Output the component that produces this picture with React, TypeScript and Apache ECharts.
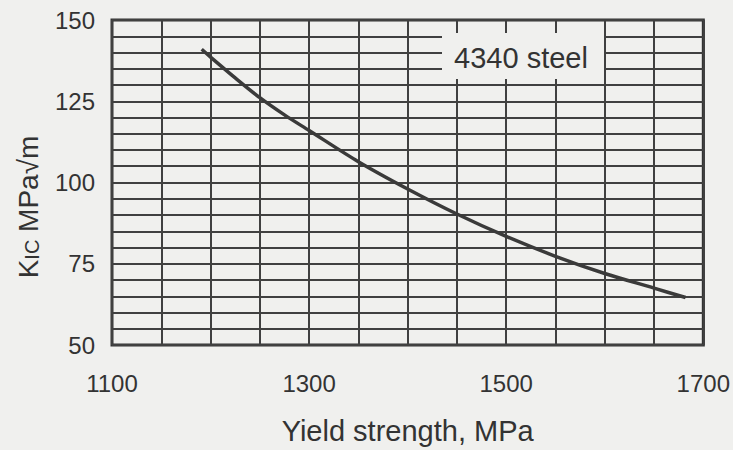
import React, { useEffect, useRef } from "react";
import * as echarts from "echarts";

const yieldStrength = [1191, 1200, 1225, 1250, 1275, 1300, 1350, 1400, 1450, 1500, 1550, 1600, 1650, 1682];
const kic = [141, 138.6, 132.2, 126.1, 120.8, 116, 106.4, 98, 90.3, 83.4, 77.3, 72, 67.5, 64.6];
const xTicks = [1100, 1300, 1500, 1700];
const yTicks = [50, 75, 100, 125, 150];
const seriesLabel = "4340 steel";
const xTitle = "Yield strength, MPa";

const BG = "#f0f0ee";
const INK = "#333333";
const FONT = "'Liberation Sans', Arial, Helvetica, sans-serif";

export default function App() {
  const ref = useRef<HTMLDivElement>(null);
  useEffect(() => {
    document.body.style.margin = "0";
    const chart = echarts.init(ref.current!, undefined, { renderer: "svg" });
    const gridLine = { show: true, lineStyle: { color: "#404040", width: 2 } };
    chart.setOption({
      animation: false,
      backgroundColor: BG,
      grid: {
        left: 112,
        right: 29,
        top: 20,
        bottom: 105,
        show: true,
        borderColor: INK,
        borderWidth: 3,
        backgroundColor: "transparent",
      },
      xAxis: {
        type: "value",
        min: xTicks[0],
        max: xTicks[xTicks.length - 1],
        interval: xTicks[1] - xTicks[0],
        axisLine: { show: false },
        axisTick: { show: false },
        minorTick: { show: false, splitNumber: 4 },
        splitLine: gridLine,
        minorSplitLine: gridLine,
        axisLabel: {
          color: INK,
          fontSize: 24,
          fontFamily: FONT,
          margin: 26,
          formatter: (v: number) => String(v),
        },
        name: xTitle,
        nameLocation: "middle",
        nameGap: 71,
        nameTextStyle: { color: INK, fontSize: 29, fontFamily: FONT },
      },
      yAxis: {
        type: "value",
        min: yTicks[0],
        max: yTicks[yTicks.length - 1],
        interval: yTicks[1] - yTicks[0],
        axisLine: { show: false },
        axisTick: { show: false },
        minorTick: { show: false, splitNumber: 5 },
        splitLine: gridLine,
        minorSplitLine: gridLine,
        axisLabel: {
          color: INK,
          fontSize: 24,
          fontFamily: FONT,
          margin: 17,
          formatter: (v: number) => String(v),
        },
      },
      graphic: [
        {
          type: "rect",
          z: 100,
          shape: { x: 442, y: 33, width: 162, height: 46 },
          style: { fill: BG },
        },
        {
          type: "text",
          z: 101,
          x: 521,
          y: 58,
          style: {
            text: seriesLabel,
            fill: INK,
            fontSize: 29,
            fontFamily: FONT,
            align: "center",
            verticalAlign: "middle",
          },
        },
        {
          type: "text",
          z: 101,
          x: 28,
          y: 207,
          rotation: Math.PI / 2,
          style: {
            text: "{k|K}{s|IC} {k|MPa√m}",
            fill: INK,
            fontFamily: FONT,
            fontSize: 28,
            align: "center",
            verticalAlign: "middle",
            rich: {
              k: { fontSize: 28, fontFamily: FONT, fill: INK },
              s: { fontSize: 20, fontFamily: FONT, fill: INK, verticalAlign: "bottom" },
            },
          },
        },
      ],
      series: [
        {
          type: "line",
          data: yieldStrength.map((x, i) => [x, kic[i]]),
          smooth: 0.3,
          showSymbol: false,
          symbol: "none",
          lineStyle: { color: "#3a3a3a", width: 3.5 },
          z: 5,
        },
      ],
    });
    return () => chart.dispose();
  }, []);
  return <div ref={ref} style={{ position: "absolute", left: 0, top: 0, width: 733, height: 450 }} />;
}
